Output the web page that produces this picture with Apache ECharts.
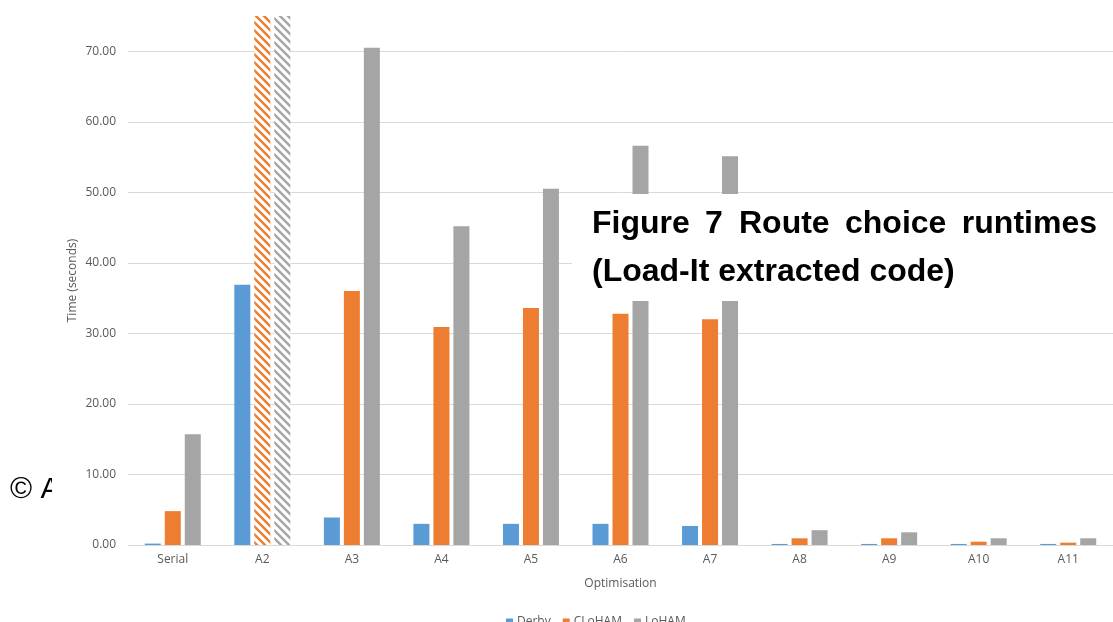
<!DOCTYPE html>
<html>
<head>
<meta charset="utf-8">
<script src="https://cdn.jsdelivr.net/npm/echarts@6/dist/echarts.min.js"></script>
<style>
html,body{margin:0;padding:0;background:#fff;}
#chart{width:1113px;height:622px;}
</style>
</head>
<body>
<div id="chart"></div>
<script>
// ---- data ----
const categories = ['Serial','A2','A3','A4','A5','A6','A7','A8','A9','A10','A11'];
const derby  = [0.2, 36.9, 3.9, 3.0, 3.0, 3.0, 2.7, 0.15, 0.15, 0.15, 0.15];
const cloham = [4.8, 80, 36.0, 30.9, 33.6, 32.8, 32.0, 0.95, 0.95, 0.47, 0.33];
const loham  = [15.7, 80, 70.5, 45.2, 50.5, 56.6, 55.1, 2.1, 1.8, 0.95, 0.95];
const hatchedCategory = 'A2';   // off-scale values drawn hatched
const yTicks = [0, 10, 20, 30, 40, 50, 60, 70];

const COLORS = {derby:'#5B9BD5', cloham:'#ED7D31', loham:'#A5A5A5'};

function hatch(color){
  const s = 8;
  const c = document.createElement('canvas');
  c.width = s; c.height = s;
  const g = c.getContext('2d');
  g.fillStyle = '#fff'; g.fillRect(0,0,s,s);
  g.strokeStyle = color; g.lineWidth = 2.4;
  g.beginPath();
  g.moveTo(-1,-1); g.lineTo(s+1,s+1);
  g.moveTo(-1,s-1); g.lineTo(1,s+1);
  g.moveTo(s-1,-1); g.lineTo(s+1,1);
  g.stroke();
  return {image:c, repeat:'repeat'};
}

function seriesData(vals, color){
  return vals.map((v,i)=> categories[i]===hatchedCategory && v>75
    ? {value:v, itemStyle:{color:hatch(color)}} : v);
}

const chart = echarts.init(document.getElementById('chart'), null, {renderer:'canvas'});
const font = 'Open Sans';
const capFont = 'bold 32px "Liberation Sans"';
function word(text, x, y, align){
  return {type:'text', z:101, style:{text:text, x:x, y:y, textAlign:align||'left', verticalAlign:'top', font:capFont, fill:'#000'}};
}
const option = {
  animation:false,
  color:[COLORS.derby, COLORS.cloham, COLORS.loham],
  grid:{left:128, right:-11, top:16, bottom:77, containLabel:false},
  legend:{
    data:['Derby','CLoHAM','LoHAM'],
    left:501, top:611,
    icon:'rect', itemWidth:7, itemHeight:7, itemGap:12,
    textStyle:{color:'#595959', fontSize:12, fontFamily:font, padding:[0,0,0,-1]}
  },
  xAxis:{
    type:'category', data:categories,
    name:'Optimisation', nameLocation:'middle', nameGap:33,
    nameTextStyle:{color:'#595959', fontSize:12, fontFamily:font},
    axisLine:{lineStyle:{color:'#D9D9D9', width:1}},
    axisTick:{show:false},
    axisLabel:{color:'#595959', fontSize:12, fontFamily:font, margin:9}
  },
  yAxis:{
    type:'value', min:0, max:75, interval:10,
    name:'Time (seconds)', nameLocation:'middle', nameGap:49, nameMoveOverlap:false,
    nameTextStyle:{color:'#595959', fontSize:12, fontFamily:font},
    axisLine:{show:false}, axisTick:{show:false},
    axisLabel:{color:'#595959', fontSize:12, fontFamily:font, margin:12,
      showMaxLabel:false,
      formatter:v=> yTicks.indexOf(v)>=0 ? v.toFixed(2) : ''},
    splitLine:{lineStyle:{color:'#D9D9D9', width:1}, showMaxLine:false}
  },
  series:[
    {name:'Derby', type:'bar', data:seriesData(derby, COLORS.derby), barWidth:16, barGap:'25%', clip:true},
    {name:'CLoHAM', type:'bar', data:seriesData(cloham, COLORS.cloham), barWidth:16, barGap:'25%', clip:true},
    {name:'LoHAM', type:'bar', data:seriesData(loham, COLORS.loham), barWidth:16, barGap:'25%', clip:true}
  ],
  graphic:[
    {type:'rect', z:100, shape:{x:572, y:194, width:560, height:107}, style:{fill:'#fff'}},
    word('Figure', 592, 208),
    word('7', 705, 208),
    word('Route', 739, 208),
    word('choice', 845, 208),
    word('runtimes', 1097, 208, 'right'),
    word('(Load-It extracted code)', 592, 256),
    {type:'text', z:101, style:{text:'© A', x:10, y:475, verticalAlign:'top', font:'30px "Liberation Sans"', fill:'#000'}},
    {type:'rect', z:102, shape:{x:52, y:470, width:27, height:40}, style:{fill:'#fff'}}
  ]
};
chart.setOption(option);
</script>
</body>
</html>
